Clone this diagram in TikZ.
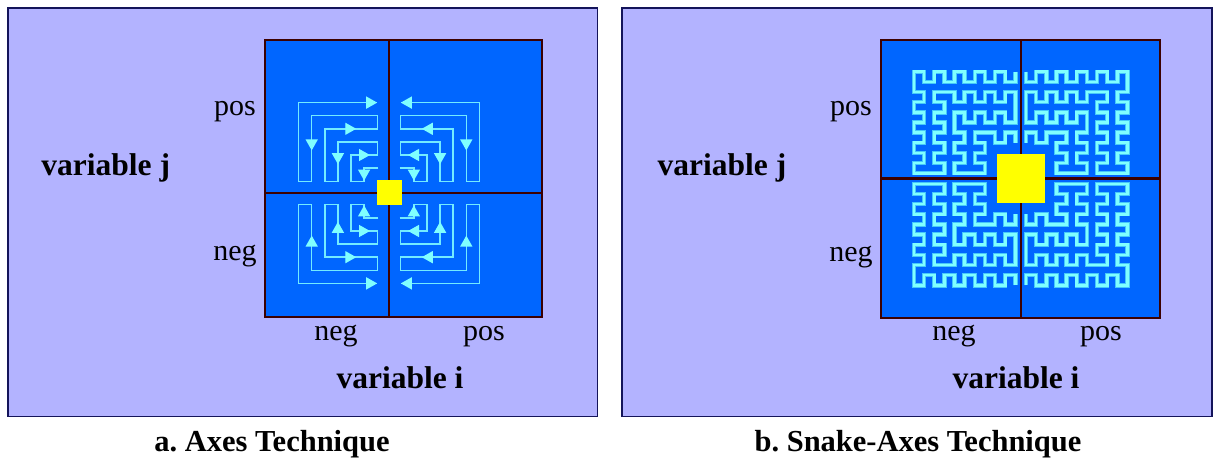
\documentclass[tikz,border=0pt]{standalone}
\usepackage{fontspec}
\setmainfont{Liberation Serif}[BoldFont={Liberation Serif Bold}]
\usetikzlibrary{arrows.meta}
\definecolor{panelbg}{RGB}{179,179,255}
\definecolor{paneledge}{RGB}{20,20,90}
\definecolor{cellblue}{RGB}{0,102,255}
\definecolor{gridline}{RGB}{60,0,0}
\definecolor{pathcyan}{RGB}{115,235,255}
\definecolor{tipcyan}{RGB}{128,255,255}
\definecolor{snakeedge}{RGB}{70,200,250}
\definecolor{marker}{RGB}{255,255,0}
\tikzset{
  panel/.style={fill=panelbg, draw=paneledge, line width=1.3pt},
  quad/.style={fill=cellblue, draw=gridline, line width=2.6pt},
  axis/.style={draw=gridline, line width=2.6pt},
  spiral/.style={draw=pathcyan, line width=1.4pt, line join=miter},
  flow/.style={draw=pathcyan, line width=1.4pt,
    -{Triangle[length=11pt,width=12pt,fill=tipcyan,color=tipcyan]}},
  snakeunder/.style={draw=snakeedge, line width=4.4pt, line join=miter},
  snaketop/.style={draw=tipcyan, line width=2.6pt, line join=miter},
  tick/.style={font=\fontsize{30}{32}\selectfont, anchor=base},
  varname/.style={font=\fontsize{31.5}{34}\selectfont\bfseries, anchor=base},
  caption/.style={font=\fontsize{30.5}{33}\selectfont\bfseries, anchor=base}
}
\begin{document}
\begin{tikzpicture}[x=1pt,y=-1pt]
\useasboundingbox (0,0) rectangle (1214,460);
\fill[white] (0,0) rectangle (1214,460);

% ---------- left panel: axes technique ----------
\draw[panel] (8,8) rectangle (597.5,416.7);
\draw[quad] (265,40) rectangle (542,317);
\draw[axis] (389,40) -- (389,317);
\draw[axis] (265,193) -- (542,193);

% one spiral per quadrant, mirrored about the axes
\foreach \sx/\sy in {1/1,-1/1,1/-1,-1/-1}{
  \begin{scope}[shift={(389,193)}, xscale={-\sx*13.1}, yscale={-\sy*13.1}]
    \draw[spiral] (0.82,1.9) -- (1.9,1.9) -- (1.9,0.9) -- (2.9,0.9) -- (2.9,2.9)
      -- (0.9,2.9) -- (0.9,3.9) -- (3.9,3.9) -- (3.9,0.9) -- (4.9,0.9)
      -- (4.9,4.9) -- (0.9,4.9) -- (0.9,5.9) -- (5.9,5.9) -- (5.9,0.9)
      -- (6.9,0.9) -- (6.9,6.9) -- (0.9,6.9);
    \draw[flow] (1.9,1.9) -- (1.9,0.95);
    \draw[flow] (2.5,2.9) -- (1.45,2.9);
    \draw[flow] (3.9,3.3) -- (3.9,2.2);
    \draw[flow] (3.5,4.9) -- (2.5,4.9);
    \draw[flow] (5.9,4.3) -- (5.9,3.25);
    \draw[flow] (2.0,6.9) -- (0.9,6.9);
  \end{scope}
}
\fill[marker] (376.5,180) rectangle (401.5,204.5);

\node[tick] (lpos) at (235,115) {pos};
\node[tick] (lneg) at (235,260) {neg};
\node[varname] (lvarj) at (105.7,175.5) {variable j};
\node[tick] (lnegi) at (336,340) {neg};
\node[tick] (lposi) at (484,340) {pos};
\node[varname] (lvari) at (400,388.5) {variable i};
\node[caption] (capa) at (272,451.5) {a.\ Axes Technique};

% ---------- right panel: snake-axes technique ----------
\draw[panel] (622,8) rectangle (1212,416.7);
\draw[quad] (881,40) rectangle (1160,318);
\draw[axis] (1021,40) -- (1021,318);
\draw[axis] (881,178.7) -- (1160,178.7);

% one meander per quadrant, mirrored about the axes
\foreach \sx/\sy in {1/1,-1/1,1/-1,-1/-1}{
  \begin{scope}[shift={({1020.7-\sx*106.8},{178.5-\sy*106.8})},
                xscale={\sx*10.15}, yscale={\sy*10.15}]
    \foreach \layer in {snakeunder,snaketop}{
    \draw[\layer]
      (10,0) -- (10,1) -- (9,1) -- (9,0) -- (8,0) -- (8,1) -- (7,1) -- (7,0)
      -- (6,0) -- (6,1) -- (5,1) -- (5,0) -- (4,0) -- (4,1) -- (3,1) -- (3,0)
      -- (2,0) -- (2,1) -- (1,1) -- (1,0) -- (0,0)
      -- (0,2) -- (1,2) -- (1,3) -- (0,3) -- (0,4) -- (1,4) -- (1,5) -- (0,5)
      -- (0,6) -- (1,6) -- (1,7) -- (0,7) -- (0,8) -- (1,8) -- (1,9) -- (0,9)
      -- (0,10) -- (3,10)
      -- (3,9) -- (2,9) -- (2,8) -- (3,8) -- (3,7) -- (2,7) -- (2,6) -- (3,6)
      -- (3,5) -- (2,5) -- (2,4) -- (3,4) -- (3,3) -- (2,3) -- (2,2)
      -- (4,2) -- (4,3) -- (5,3) -- (5,2) -- (6,2) -- (6,3) -- (7,3) -- (7,2)
      -- (8,2) -- (8,3) -- (9,3) -- (9,2) -- (10,2) -- (10,5)
      -- (9,5) -- (9,4) -- (8,4) -- (8,5) -- (7,5) -- (7,4) -- (6,4) -- (6,5)
      -- (5,5) -- (5,4) -- (4,4)
      -- (4,6) -- (5,6) -- (5,7) -- (4,7) -- (4,8) -- (5,8) -- (5,9) -- (4,9)
      -- (4,10) -- (7,10)
      -- (7,9) -- (6,9) -- (6,8) -- (7,8) -- (7,7) -- (6,7) -- (6,6)
      -- (8,6) -- (8,7) -- (9,7) -- (9,6) -- (10,6) -- (10,7);
    }
  \end{scope}
}
\fill[marker] (996.7,154.3) rectangle (1045,202.7);

\node[tick] (rpos) at (851,115) {pos};
\node[tick] (rneg) at (851,261) {neg};
\node[varname] (rvarj) at (722,175.5) {variable j};
\node[tick] (rnegi) at (954,340) {neg};
\node[tick] (rposi) at (1101,340) {pos};
\node[varname] (rvari) at (1016,388.5) {variable i};
\node[caption] (capb) at (918,451.5) {b.\ Snake-Axes Technique};
\end{tikzpicture}
\end{document}
